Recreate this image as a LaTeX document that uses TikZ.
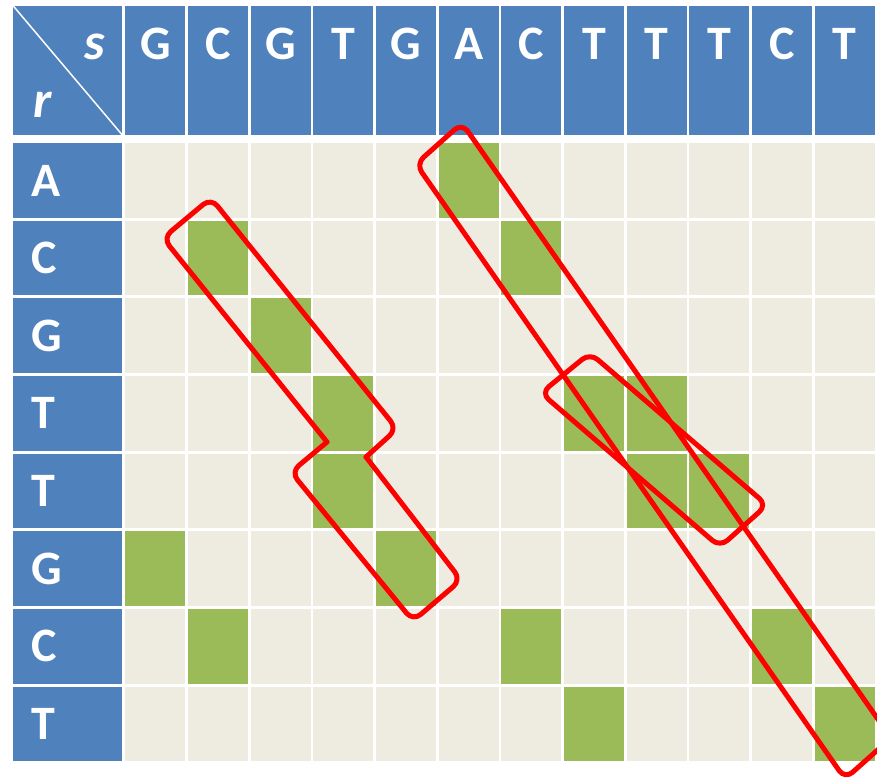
\documentclass[tikz,border=0pt]{standalone}
\usepackage{fontspec}
\setmainfont{Carlito}
\definecolor{hdrblue}{HTML}{4F81BD}
\definecolor{cellbg}{HTML}{EEECE1}
\definecolor{hitgreen}{HTML}{9BBB59}
\begin{document}
\begin{tikzpicture}[x=1pt,y=-1pt,
  lbl/.style={text=white,inner sep=0pt,font=\fontsize{48}{48}\selectfont\bfseries},
  seqvar/.style={text=white,inner sep=0pt,font=\fontsize{52}{52}\selectfont\bfseries\itshape},
  band/.style={draw=red,line width=5pt,rounded corners=10pt,line cap=round,line join=round}]
\useasboundingbox (0,0) rectangle (877,778);
% corner cell
\fill[hdrblue] (13.3,6) rectangle (122.3,135);
\draw[white,line width=1.5pt] (13.3,6) -- (122.3,135);
\node[seqvar,anchor=base] (svar) at (95,60) {s};
\node[seqvar,anchor=base] (rvar) at (43,118) {r};
% sequence s along the top
\foreach \c [count=\j] in {G,C,G,T,G,A,C,T,T,T,C,T} {
  \fill[hdrblue] ({125.3+(\j-1)*62.67},6) rectangle +(60,129);
  \node[lbl,anchor=base] (s\j) at ({155.3+(\j-1)*62.67},60) {\c};
}
% sequence r down the side, empty cells
\foreach \c [count=\i] in {A,C,G,T,T,G,C,T} {
  \fill[hdrblue] (13.3,{143.1+(\i-1)*77.66}) rectangle +(109,74.5);
  \node[lbl,anchor=base west] (r\i) at (31,{196+(\i-1)*77.66}) {\c};
  \foreach \j in {1,...,12}
    \fill[cellbg] ({125.3+(\j-1)*62.67},{143.1+(\i-1)*77.66}) rectangle +(60,74.5);
}
% matches
\foreach \i/\j in {1/6,2/2,2/7,3/3,4/4,4/8,4/9,5/4,5/9,5/10,6/1,6/5,7/2,7/7,7/11,8/8,8/12}
  \fill[hitgreen] ({125.3+(\j-1)*62.67},{143.1+(\i-1)*77.66}) rectangle +(60,74.5);
% diagonals
\draw[band] (327,442) -- (291,472) -- (413,621) -- (461,580) -- (366,457);
\draw[band] (366,457) -- (397,429) -- (211,198) -- (163,238) -- (327,442);
\draw[band] (462,123) -- (416,164) -- (845,779) -- (891,738) -- cycle;
\draw[band] (590,353) -- (541,393) -- (720,547) -- (767,505) -- cycle;
\end{tikzpicture}
\end{document}
